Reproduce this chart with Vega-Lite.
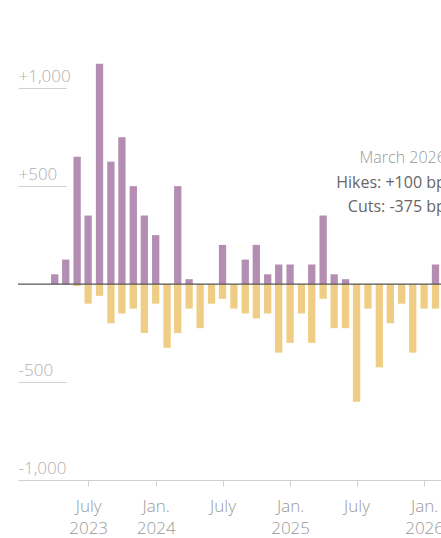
{
  "$schema": "https://vega.github.io/schema/vega-lite/v6.json",
  "autosize": "none",
  "width": 423,
  "height": 431,
  "padding": {"left": 18, "top": 49, "right": 0, "bottom": 58},
  "background": "white",
  "config": {"view": {"stroke": null}, "font": "Open Sans"},
  "layer": [
    {
      "data": {"values": [
        {"month": "2023-04-01", "type": "Hikes", "bp": 50}, {"month": "2023-04-01", "type": "Cuts", "bp": 0},
        {"month": "2023-05-01", "type": "Hikes", "bp": 125}, {"month": "2023-05-01", "type": "Cuts", "bp": 0},
        {"month": "2023-06-01", "type": "Hikes", "bp": 650}, {"month": "2023-06-01", "type": "Cuts", "bp": -10},
        {"month": "2023-07-01", "type": "Hikes", "bp": 350}, {"month": "2023-07-01", "type": "Cuts", "bp": -100},
        {"month": "2023-08-01", "type": "Hikes", "bp": 1125}, {"month": "2023-08-01", "type": "Cuts", "bp": -60},
        {"month": "2023-09-01", "type": "Hikes", "bp": 625}, {"month": "2023-09-01", "type": "Cuts", "bp": -200},
        {"month": "2023-10-01", "type": "Hikes", "bp": 750}, {"month": "2023-10-01", "type": "Cuts", "bp": -150},
        {"month": "2023-11-01", "type": "Hikes", "bp": 500}, {"month": "2023-11-01", "type": "Cuts", "bp": -125},
        {"month": "2023-12-01", "type": "Hikes", "bp": 350}, {"month": "2023-12-01", "type": "Cuts", "bp": -250},
        {"month": "2024-01-01", "type": "Hikes", "bp": 250}, {"month": "2024-01-01", "type": "Cuts", "bp": -100},
        {"month": "2024-02-01", "type": "Hikes", "bp": 0}, {"month": "2024-02-01", "type": "Cuts", "bp": -325},
        {"month": "2024-03-01", "type": "Hikes", "bp": 500}, {"month": "2024-03-01", "type": "Cuts", "bp": -250},
        {"month": "2024-04-01", "type": "Hikes", "bp": 25}, {"month": "2024-04-01", "type": "Cuts", "bp": -125},
        {"month": "2024-05-01", "type": "Hikes", "bp": 0}, {"month": "2024-05-01", "type": "Cuts", "bp": -225},
        {"month": "2024-06-01", "type": "Hikes", "bp": 0}, {"month": "2024-06-01", "type": "Cuts", "bp": -100},
        {"month": "2024-07-01", "type": "Hikes", "bp": 200}, {"month": "2024-07-01", "type": "Cuts", "bp": -75},
        {"month": "2024-08-01", "type": "Hikes", "bp": 0}, {"month": "2024-08-01", "type": "Cuts", "bp": -125},
        {"month": "2024-09-01", "type": "Hikes", "bp": 125}, {"month": "2024-09-01", "type": "Cuts", "bp": -150},
        {"month": "2024-10-01", "type": "Hikes", "bp": 200}, {"month": "2024-10-01", "type": "Cuts", "bp": -175},
        {"month": "2024-11-01", "type": "Hikes", "bp": 50}, {"month": "2024-11-01", "type": "Cuts", "bp": -150},
        {"month": "2024-12-01", "type": "Hikes", "bp": 100}, {"month": "2024-12-01", "type": "Cuts", "bp": -350},
        {"month": "2025-01-01", "type": "Hikes", "bp": 100}, {"month": "2025-01-01", "type": "Cuts", "bp": -300},
        {"month": "2025-02-01", "type": "Hikes", "bp": 0}, {"month": "2025-02-01", "type": "Cuts", "bp": -150},
        {"month": "2025-03-01", "type": "Hikes", "bp": 100}, {"month": "2025-03-01", "type": "Cuts", "bp": -300},
        {"month": "2025-04-01", "type": "Hikes", "bp": 350}, {"month": "2025-04-01", "type": "Cuts", "bp": -75},
        {"month": "2025-05-01", "type": "Hikes", "bp": 50}, {"month": "2025-05-01", "type": "Cuts", "bp": -225},
        {"month": "2025-06-01", "type": "Hikes", "bp": 25}, {"month": "2025-06-01", "type": "Cuts", "bp": -225},
        {"month": "2025-07-01", "type": "Hikes", "bp": 0}, {"month": "2025-07-01", "type": "Cuts", "bp": -600},
        {"month": "2025-08-01", "type": "Hikes", "bp": 0}, {"month": "2025-08-01", "type": "Cuts", "bp": -125},
        {"month": "2025-09-01", "type": "Hikes", "bp": 0}, {"month": "2025-09-01", "type": "Cuts", "bp": -425},
        {"month": "2025-10-01", "type": "Hikes", "bp": 0}, {"month": "2025-10-01", "type": "Cuts", "bp": -200},
        {"month": "2025-11-01", "type": "Hikes", "bp": 0}, {"month": "2025-11-01", "type": "Cuts", "bp": -100},
        {"month": "2025-12-01", "type": "Hikes", "bp": 0}, {"month": "2025-12-01", "type": "Cuts", "bp": -350},
        {"month": "2026-01-01", "type": "Hikes", "bp": 0}, {"month": "2026-01-01", "type": "Cuts", "bp": -125},
        {"month": "2026-02-01", "type": "Hikes", "bp": 100}, {"month": "2026-02-01", "type": "Cuts", "bp": -125},
        {"month": "2026-03-01", "type": "Hikes", "bp": 100}, {"month": "2026-03-01", "type": "Cuts", "bp": -375}
      ]},
      "mark": {"type": "bar", "size": 7.3},
      "encoding": {
        "x": {
          "field": "month", "type": "temporal",
          "scale": {"type": "utc", "padding": 0, "domain": [{"year": 2022, "month": 12, "date": 22, "utc": true}, {"year": 2026, "month": 2, "date": 16, "utc": true}]},
          "axis": {
            "title": null,
            "values": [
              {"year": 2023, "month": 7, "date": 1, "utc": true},
              {"year": 2024, "month": 1, "date": 1, "utc": true},
              {"year": 2024, "month": 7, "date": 1, "utc": true},
              {"year": 2025, "month": 1, "date": 1, "utc": true},
              {"year": 2025, "month": 7, "date": 1, "utc": true},
              {"year": 2026, "month": 1, "date": 1, "utc": true}
            ],
            "labelExpr": "utcmonth(datum.value) == 0 ? ['Jan.', utcFormat(datum.value, '%Y')] : (utcyear(datum.value) == 2023 ? ['July', '2023'] : 'July')",
            "grid": false,
            "domainColor": "#d0d0d0",
            "tickColor": "#d0d0d0",
            "tickSize": 6,
            "labelColor": "#999999",
            "labelFontSize": 17,
            "labelFontWeight": 300,
            "labelLineHeight": 22,
            "labelBaseline": "alphabetic",
            "labelPadding": 25,
            "labelFlush": false,
            "labelOverlap": false
          }
        },
        "y": {
          "field": "bp", "type": "quantitative", "stack": null,
          "scale": {"domain": [-1000, 1200], "nice": false, "padding": 0},
          "axis": {
            "title": null,
            "values": [-1000, -500, 500, 1000],
            "labelExpr": "datum.value < 0 ? '-' + format(-datum.value, ',') : '+' + format(datum.value, ',')",
            "domain": false,
            "grid": false,
            "offset": -48,
            "tickSize": 48,
            "tickColor": "#d0d0d0",
            "labelAlign": "left",
            "labelBaseline": "alphabetic",
            "labelPadding": 0,
            "labelOffset": -7,
            "labelColor": "#b0b0b0",
            "labelFontSize": 17,
            "labelFontWeight": 300
          }
        },
        "color": {
          "field": "type", "type": "nominal",
          "scale": {"domain": ["Hikes", "Cuts"], "range": ["#b48db3", "#efcd85"]},
          "legend": null
        }
      }
    },
    {
      "data": {"values": [{}]},
      "mark": {"type": "rule", "color": "#555555", "strokeWidth": 1.3},
      "encoding": {"y": {"datum": 0, "type": "quantitative"}}
    },
    {
      "data": {"values": [{}]},
      "mark": {"type": "text", "align": "right", "baseline": "alphabetic", "fontSize": 16, "fontWeight": 300, "color": "#999999"},
      "encoding": {
        "x": {"datum": {"year": 2026, "month": 3, "date": 1, "utc": true}, "type": "temporal",
              "scale": {"type": "utc", "padding": 0, "domain": [{"year": 2022, "month": 12, "date": 22, "utc": true}, {"year": 2026, "month": 2, "date": 16, "utc": true}]}},
        "y": {"datum": 616, "type": "quantitative"},
        "text": {"value": "March 2026"}
      }
    },
    {
      "data": {"values": [{}]},
      "mark": {"type": "text", "align": "right", "baseline": "alphabetic", "fontSize": 16, "lineHeight": 23.5, "color": "#666666"},
      "encoding": {
        "x": {"datum": {"year": 2026, "month": 3, "date": 1, "utc": true}, "type": "temporal",
              "scale": {"type": "utc", "padding": 0, "domain": [{"year": 2022, "month": 12, "date": 22, "utc": true}, {"year": 2026, "month": 2, "date": 16, "utc": true}]}},
        "y": {"datum": 488, "type": "quantitative"},
        "text": {"value": ["Hikes: +100 bp", "Cuts: -375 bp"]}
      }
    }
  ]
}
